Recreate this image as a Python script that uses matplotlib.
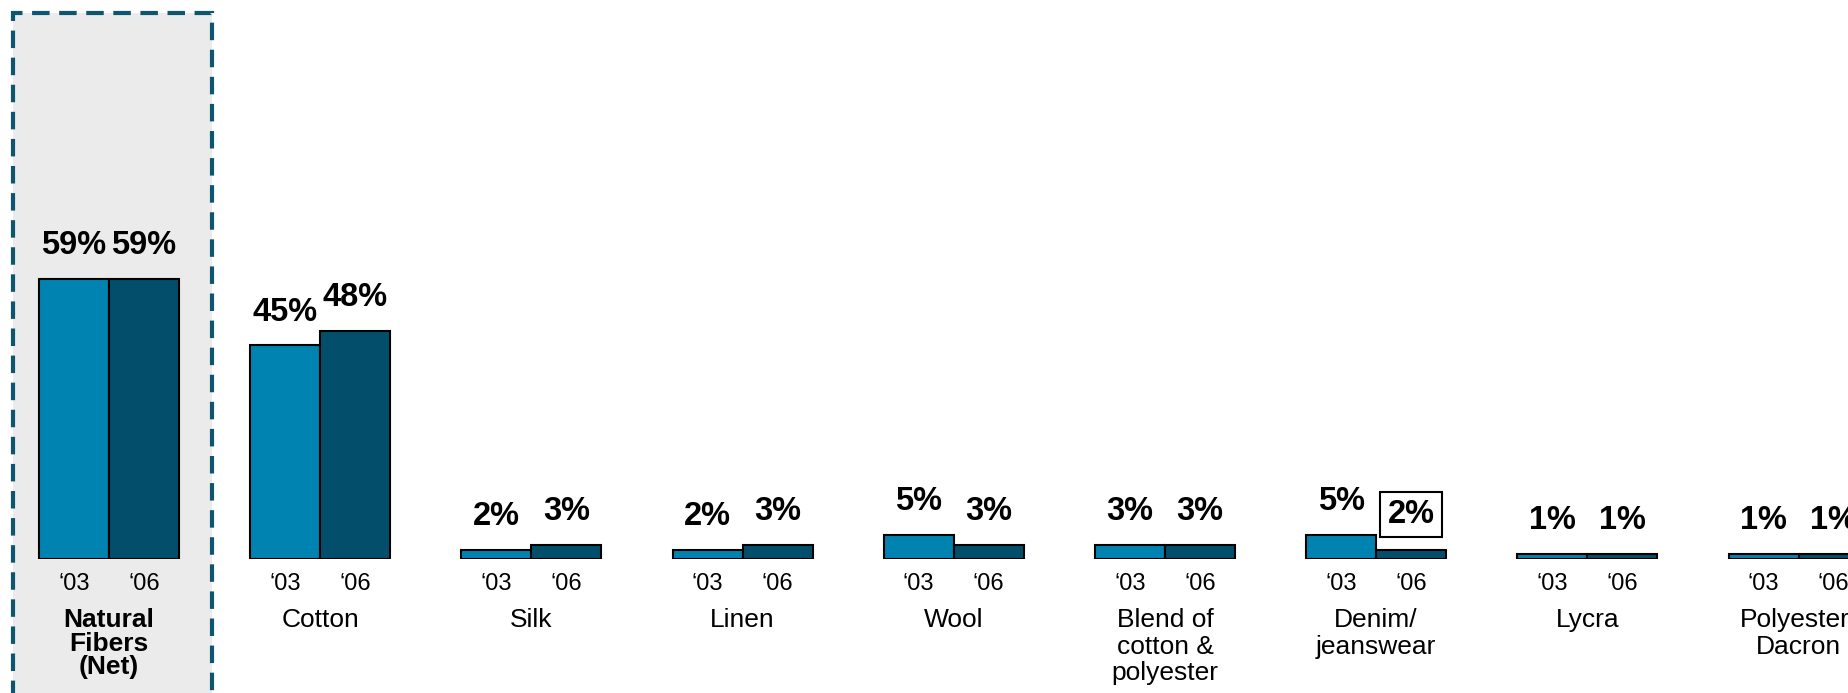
import numpy as np
import matplotlib.pyplot as plt
import matplotlib.patches as mpatches
import matplotlib.transforms as mtransforms

plt.rcParams['font.family'] = ['Liberation Sans', 'DejaVu Sans']

# Data
categories = ['Natural\nFibers\n(Net)', 'Cotton', 'Silk', 'Linen', 'Wool',
              'Blend of\ncotton &\npolyester', 'Denim/\njeanswear', 'Lycra',
              'Polyester/\nDacron']
years = ['\u201803', '\u201806']
vals_03 = [59, 45, 2, 2, 5, 3, 5, 1, 1]
vals_06 = [59, 48, 3, 3, 3, 3, 2, 1, 1]

c03 = '#0083B0'
c06 = '#034E6A'
box_col = '#0E5670'

fig = plt.figure(figsize=(18.49, 6.93), dpi=100)
ax = fig.add_axes([0, 134 / 693, 1, 559 / 693])
ax.set_xlim(-0.516, 8.239)
ax.set_ylim(0, 117.8)
ax.axis('off')

x = np.arange(len(categories))
w = 0.3315

# highlight box for the net category (behind the axes)
trans = mtransforms.blended_transform_factory(ax.transData, fig.transFigure)
bg = mpatches.Rectangle((-0.4545, -0.1), 0.942, 1.1 - 13 / 693, transform=trans,
                        facecolor='#EBEBEB', edgecolor=box_col, lw=3,
                        linestyle=(0, (4.2, 2.3)), clip_on=False, zorder=-1)
fig.patches.append(bg)

ax.bar(x - w / 2, vals_03, w, color=c03, edgecolor='black', lw=1.5, zorder=2)
ax.bar(x + w / 2, vals_06, w, color=c06, edgecolor='black', lw=1.5, zorder=2)

for i in range(len(categories)):
    for j, (xpos, v) in enumerate(((x[i] - w / 2, vals_03[i]), (x[i] + w / 2, vals_06[i]))):
        if i == 6 and j == 1:
            # boxed label
            ax.annotate(f'{v}%', (xpos, v), xytext=(0, 25), textcoords='offset points',
                        ha='center', va='center', fontsize=23.5, fontweight='bold',
                        bbox=dict(boxstyle='square,pad=0.22', fc='white', ec='black', lw=1.5))
        else:
            ax.annotate(f'{v}%', (xpos, v), xytext=(0, 24), textcoords='offset points',
                        ha='center', va='center', fontsize=23.5, fontweight='bold')
    for xpos, yl in ((x[i] - w / 2, years[0]), (x[i] + w / 2, years[1])):
        ax.annotate(yl, (xpos, 0), xytext=(0, -18), textcoords='offset points',
                    ha='center', va='center', fontsize=17)
    bold = i == 0
    ax.annotate(categories[i], (x[i], 0), xytext=(0, -35.5), textcoords='offset points',
                ha='center', va='top', fontsize=19,
                linespacing=0.97 if bold else 1.12,
                fontweight='bold' if bold else 'normal')

fig.savefig('out.png', dpi=100)
